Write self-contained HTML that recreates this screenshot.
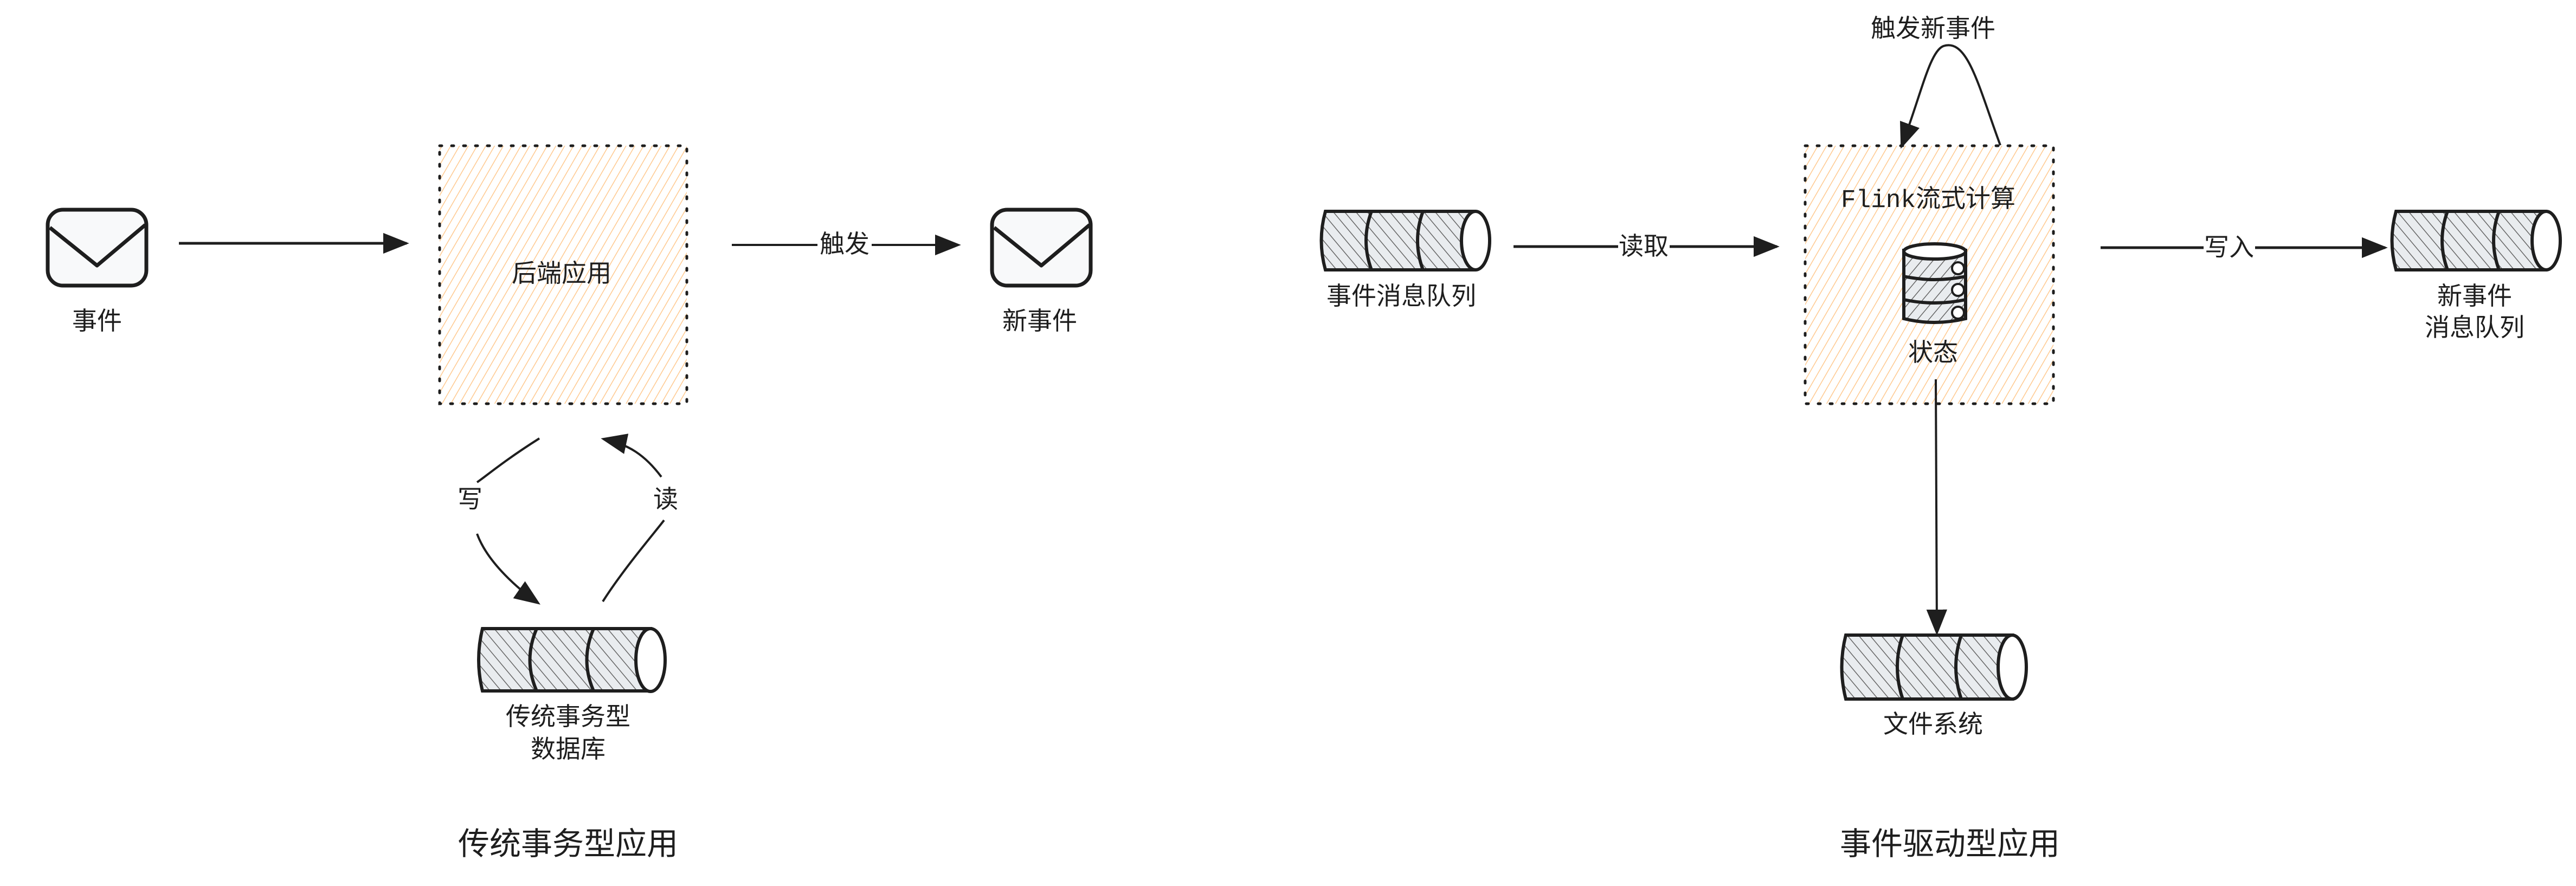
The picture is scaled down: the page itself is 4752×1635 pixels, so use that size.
<!DOCTYPE html>
<html><head><meta charset="utf-8"><style>
html,body{margin:0;padding:0;background:#fff;}
svg{display:block;}
text{font-family:"Liberation Sans","Noto Sans CJK SC",sans-serif;fill:#1e1e1e;}
</style></head><body>
<svg width="4752" height="1635" viewBox="0 0 4752 1635" xmlns="http://www.w3.org/2000/svg">
<defs>
<pattern id="orange" patternUnits="userSpaceOnUse" width="14" height="14" patternTransform="rotate(30)">
<rect width="14" height="14" fill="#fff"/>
<line x1="0" y1="0" x2="0" y2="14" stroke="#ffc98f" stroke-width="3"/>
</pattern>
<pattern id="gray" patternUnits="userSpaceOnUse" width="16" height="16" patternTransform="rotate(-40)">
<rect width="16" height="16" fill="#e9ecef"/>
<line x1="0" y1="0" x2="0" y2="16" stroke="#666" stroke-width="3"/>
</pattern>
<pattern id="gray2" patternUnits="userSpaceOnUse" width="16" height="16" patternTransform="rotate(40)">
<rect width="16" height="16" fill="#e9ecef"/>
<line x1="0" y1="0" x2="0" y2="16" stroke="#666" stroke-width="3"/>
</pattern>
<marker id="ah2" viewBox="0 0 10 10" refX="9" refY="5" markerWidth="48" markerHeight="48" markerUnits="userSpaceOnUse" orient="auto">
<path d="M0,1 L10,5 L0,9 z" fill="#1e1e1e"/>
</marker>
</defs>

<!-- LEFT -->
<g stroke="#1e1e1e" stroke-width="7" fill="#f8f9fa" stroke-linejoin="round">
<rect x="88" y="387" width="182" height="140" rx="28"/>
<path d="M92,420 L179,490 L268,415" fill="none"/>
<rect x="1830" y="387" width="182" height="140" rx="28"/>
<path d="M1834,420 L1921,490 L2010,415" fill="none"/>
</g>
<text x="179" y="608" font-size="46" text-anchor="middle">事件</text>
<text x="1918" y="608" font-size="46" text-anchor="middle">新事件</text>

<line x1="330" y1="449" x2="750" y2="449" stroke="#1e1e1e" stroke-width="5" marker-end="url(#ah2)"/>

<rect x="811" y="269" width="456" height="476" fill="url(#orange)" stroke="#1e1e1e" stroke-width="5" stroke-dasharray="4 18" stroke-linecap="round"/>
<text x="1036" y="520" font-size="46" text-anchor="middle">后端应用</text>

<line x1="1350" y1="452" x2="1508" y2="452" stroke="#1e1e1e" stroke-width="4"/>
<line x1="1608" y1="452" x2="1768" y2="452" stroke="#1e1e1e" stroke-width="4" marker-end="url(#ah2)"/>
<text x="1558" y="466" font-size="46" text-anchor="middle">触发</text>

<path d="M995,809 C930,850 895,880 880,890" fill="none" stroke="#1e1e1e" stroke-width="4"/>
<path d="M880,985 C900,1040 960,1090 993,1113" fill="none" stroke="#1e1e1e" stroke-width="4" marker-end="url(#ah2)"/>
<text x="867" y="937" font-size="46" text-anchor="middle">写</text>
<path d="M1112,1110 C1150,1050 1210,980 1225,960" fill="none" stroke="#1e1e1e" stroke-width="4"/>
<path d="M1220,880 C1190,840 1160,820 1113,810" fill="none" stroke="#1e1e1e" stroke-width="4" marker-end="url(#ah2)"/>
<text x="1228" y="937" font-size="46" text-anchor="middle">读</text>

<g stroke="#1e1e1e" stroke-width="6">
<path d="M890,1160 L1200,1160 L1200,1275 L890,1275 Q876,1218 890,1160 z" fill="url(#gray)"/>
<path d="M990,1160 Q965,1218 990,1275" fill="none"/>
<path d="M1095,1160 Q1070,1218 1095,1275" fill="none"/>
<ellipse cx="1200" cy="1218" rx="27" ry="58" fill="#fff"/>
</g>
<text x="1048" y="1338" font-size="46" text-anchor="middle">传统事务型</text>
<text x="1048" y="1398" font-size="46" text-anchor="middle">数据库</text>

<text x="1048" y="1577" font-size="58" text-anchor="middle">传统事务型应用</text>

<!-- RIGHT -->
<g stroke="#1e1e1e" stroke-width="6">
<path d="M2445,390 L2720,390 L2720,498 L2445,498 Q2430,444 2445,390 z" fill="url(#gray)"/>
<path d="M2530,390 Q2510,444 2530,498" fill="none"/>
<path d="M2625,390 Q2605,444 2625,498" fill="none"/>
<ellipse cx="2722" cy="444" rx="26" ry="54" fill="#fff"/>

<path d="M4420,390 L4695,390 L4695,498 L4420,498 Q4405,444 4420,390 z" fill="url(#gray)"/>
<path d="M4515,390 Q4495,444 4515,498" fill="none"/>
<path d="M4610,390 Q4590,444 4610,498" fill="none"/>
<ellipse cx="4697" cy="444" rx="26" ry="54" fill="#fff"/>

<path d="M3405,1172 L3712,1172 L3712,1290 L3405,1290 Q3390,1231 3405,1172 z" fill="url(#gray)"/>
<path d="M3510,1172 Q3490,1231 3510,1290" fill="none"/>
<path d="M3618,1172 Q3598,1231 3618,1290" fill="none"/>
<ellipse cx="3712" cy="1231" rx="26" ry="59" fill="#fff"/>
</g>
<text x="2585" y="562" font-size="46" text-anchor="middle">事件消息队列</text>
<text x="4565" y="562" font-size="46" text-anchor="middle">新事件</text>
<text x="4565" y="620" font-size="46" text-anchor="middle">消息队列</text>
<text x="3566" y="1352" font-size="46" text-anchor="middle">文件系统</text>

<line x1="2792" y1="455" x2="2985" y2="455" stroke="#1e1e1e" stroke-width="5"/>
<line x1="3080" y1="455" x2="3278" y2="455" stroke="#1e1e1e" stroke-width="5" marker-end="url(#ah2)"/>
<text x="3032" y="470" font-size="46" text-anchor="middle">读取</text>

<line x1="3875" y1="457" x2="4065" y2="457" stroke="#1e1e1e" stroke-width="5"/>
<line x1="4160" y1="457" x2="4400" y2="457" stroke="#1e1e1e" stroke-width="5" marker-end="url(#ah2)"/>
<text x="4112" y="472" font-size="46" text-anchor="middle">写入</text>

<rect x="3330" y="269" width="458" height="476" fill="url(#orange)" stroke="#1e1e1e" stroke-width="5" stroke-dasharray="4 18" stroke-linecap="round"/>
<text x="3557" y="382" font-size="46" text-anchor="middle"><tspan font-family="Liberation Mono">Flink</tspan>流式计算</text>

<g stroke="#1e1e1e" stroke-width="6">
<path d="M3512,462 L3512,588 Q3568,602 3626,588 L3626,462 z" fill="url(#gray2)"/>
<ellipse cx="3569" cy="464" rx="57" ry="14" fill="#fff"/>
<path d="M3512,510 Q3569,522 3626,510 M3512,553 Q3569,565 3626,553" fill="none"/>
<circle cx="3612" cy="495" r="11" fill="#fff" stroke-width="4"/>
<circle cx="3612" cy="535" r="11" fill="#fff" stroke-width="4"/>
<circle cx="3612" cy="577" r="11" fill="#fff" stroke-width="4"/>
</g>
<text x="3566" y="666" font-size="46" text-anchor="middle">状态</text>

<line x1="3571" y1="700" x2="3573" y2="1168" stroke="#1e1e1e" stroke-width="4" marker-end="url(#ah2)"/>

<path d="M3690,268 C3650,160 3630,70 3585,85 C3560,95 3545,170 3508,270" fill="none" stroke="#1e1e1e" stroke-width="4" marker-end="url(#ah2)"/>
<text x="3566" y="68" font-size="46" text-anchor="middle">触发新事件</text>

<text x="3597" y="1577" font-size="58" text-anchor="middle">事件驱动型应用</text>
</svg>
</body></html>
